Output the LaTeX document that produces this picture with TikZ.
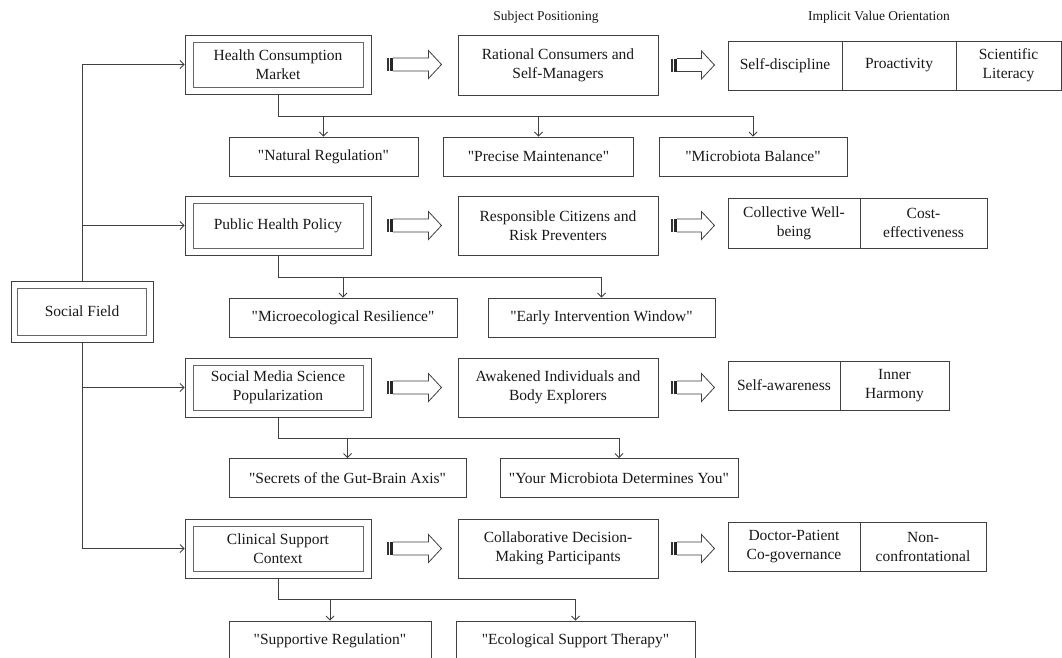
\documentclass[tikz,border=0pt]{standalone}
\usepackage{fontspec}
\setmainfont{Liberation Serif}
\usetikzlibrary{arrows.meta,calc}
\font\qfnt="Liberation Serif" at 15.5pt
\newcommand{\qq}{{\qfnt\char34}}
\newcommand{\barrow}[3]{%
\begin{scope}[shift={($(#1.east)+(#2pt,0pt)$)}]
\fill[black!80] (0,-6.5) rectangle (1.4,6.5);
\fill[black!85] (2.6,-6.5) rectangle (5.4,6.5);
\draw[line width=0.8pt,draw=black!75,line join=miter] (5.4,-6.5) -- ({#3-13},-6.5) -- ({#3-13},-14) -- (#3,0) -- ({#3-13},14) -- ({#3-13},6.5) -- (5.4,6.5);
\end{scope}}
\begin{document}
\begin{tikzpicture}[x=1pt,y=-1pt,
  txt/.style={font=\fontsize{15.5}{19}\selectfont, text=black!90},
  bx/.style={draw=black!75, line width=0.9pt, inner sep=0pt, align=center, txt},
  ibx/.style={bx, draw=black!60},
  hdr/.style={font=\fontsize{13.5}{16}\selectfont, text=black!90, inner sep=0pt},
  ln/.style={draw=black!75, line width=0.9pt},
  arr/.style={ln, -{Straight Barb[length=4pt,width=8pt,line width=0.8pt]}}
]
\useasboundingbox (0,0) rectangle (1062,657);
\fill[white] (0,0) rectangle (1062,657);

% headers
\node[hdr] (h1) at (546,17) {Subject Positioning};
\node[hdr] (h2) at (879,17) {Implicit Value Orientation};

% social field
\node[bx, minimum width=142pt, minimum height=61pt] (sfo) at (82,311.5) {};
\node[ibx, minimum width=129pt, minimum height=47pt] (sf) at (82,311.5) {Social Field};

% main boxes
\foreach \n/\y in {1/64.5,2/225.5,3/387.5,4/548.5}{
  \node[bx, minimum width=186pt, minimum height=59pt] (m\n o) at (278,\y) {};
}
\node[ibx, minimum width=170pt, minimum height=45pt] (m1) at (278,64.5) {Health Consumption\\Market};
\node[ibx, minimum width=170pt, minimum height=45pt] (m2) at (278,225.5) {Public Health Policy};
\node[ibx, minimum width=170pt, minimum height=45pt] (m3) at (278,387.5) {Social Media Science\\Popularization};
\node[ibx, minimum width=170pt, minimum height=45pt] (m4) at (278,548.5) {Clinical Support\\Context};

% subject boxes
\node[bx, minimum width=200pt, minimum height=60pt] (s1) at (558,65) {Rational Consumers and\\Self-Managers};
\node[bx, minimum width=200pt, minimum height=59pt] (s2) at (558,225.5) {Responsible Citizens and\\Risk Preventers};
\node[bx, minimum width=200pt, minimum height=59pt] (s3) at (558,387.5) {Awakened Individuals and\\Body Explorers};
\node[bx, minimum width=200pt, minimum height=59pt] (s4) at (558,548.5) {Collaborative Decision-\\Making Participants};

% value boxes
\node[bx, minimum width=114pt, minimum height=49pt] (v1a) at (785,65.5) {Self-discipline};
\node[bx, minimum width=114pt, minimum height=49pt] (v1b) at (899,65.5) {Proactivity};
\node[bx, minimum width=105pt, minimum height=49pt] (v1c) at (1008.5,65.5) {Scientific\\Literacy};
\node[bx, minimum width=132pt, minimum height=50pt] (v2a) at (794,223) {Collective Well-\\being};
\node[bx, minimum width=127pt, minimum height=50pt] (v2b) at (923.5,223) {Cost-\\effectiveness};
\node[bx, minimum width=112pt, minimum height=49pt] (v3a) at (784,385.5) {Self-awareness};
\node[bx, minimum width=109pt, minimum height=49pt] (v3b) at (894.5,385.5) {Inner\\Harmony};
\node[bx, minimum width=132pt, minimum height=49pt] (v4a) at (794,546.5) {Doctor-Patient\\Co-governance};
\node[bx, minimum width=126pt, minimum height=49pt] (v4b) at (923,546.5) {Non-\\confrontational};

% leaves
\node[bx, minimum width=189pt, minimum height=39pt] (l1a) at (323.5,156.5) {\qq Natural Regulation\qq};
\node[bx, minimum width=190pt, minimum height=39pt] (l1b) at (538.5,156.5) {\qq Precise Maintenance\qq};
\node[bx, minimum width=188pt, minimum height=39pt] (l1c) at (753,156.5) {\qq Microbiota Balance\qq};
\node[bx, minimum width=228pt, minimum height=39pt] (l2a) at (343,317.5) {\qq Microecological Resilience\qq};
\node[bx, minimum width=227pt, minimum height=39pt] (l2b) at (601.5,317.5) {\qq Early Intervention Window\qq};
\node[bx, minimum width=237pt, minimum height=39pt] (l3a) at (347.5,478) {\qq Secrets of the Gut-Brain Axis\qq};
\node[bx, minimum width=238pt, minimum height=39pt] (l3b) at (619,478) {\qq Your Microbiota Determines You\qq};
\node[bx, minimum width=202pt, minimum height=40pt] (l4a) at (330,641) {\qq Supportive Regulation\qq};
\node[bx, minimum width=239pt, minimum height=40pt] (l4b) at (575.5,641) {\qq Ecological Support Therapy\qq};

% trunk
\draw[arr] (sfo.north) |- (m1o.west);
\draw[arr] (sfo.south) |- (m4o.west);
\draw[arr] (sfo.north |- m2o.west) -- (m2o.west);
\draw[arr] (sfo.south |- m3o.west) -- (m3o.west);

% trees
\coordinate (j1) at (278,116);
\coordinate (j2) at (278,277);
\coordinate (j3) at (278,438);
\coordinate (j4) at (278,599);
\draw[ln] (m1o.south) -- (j1) -- (j1 -| l1c.north);
\foreach \l in {l1a,l1b,l1c}{\draw[arr] (j1 -| \l.north) -- (\l.north);}
\draw[ln] (m2o.south) -- (j2) -- (j2 -| l2b.north);
\foreach \l in {l2a,l2b}{\draw[arr] (j2 -| \l.north) -- (\l.north);}
\draw[ln] (m3o.south) -- (j3) -- (j3 -| l3b.north);
\foreach \l in {l3a,l3b}{\draw[arr] (j3 -| \l.north) -- (\l.north);}
\draw[ln] (m4o.south) -- (j4) -- (j4 -| l4b.north);
\foreach \l in {l4a,l4b}{\draw[arr] (j4 -| \l.north) -- (\l.north);}

% block arrows
\barrow{m1o}{16}{54}
\barrow{m2o}{16}{54}
\barrow{m3o}{16}{54}
\barrow{m4o}{16}{54}
\barrow{s1}{13}{43}
\barrow{s2}{13}{43}
\barrow{s3}{13}{43}
\barrow{s4}{13}{43}
\end{tikzpicture}
\end{document}
